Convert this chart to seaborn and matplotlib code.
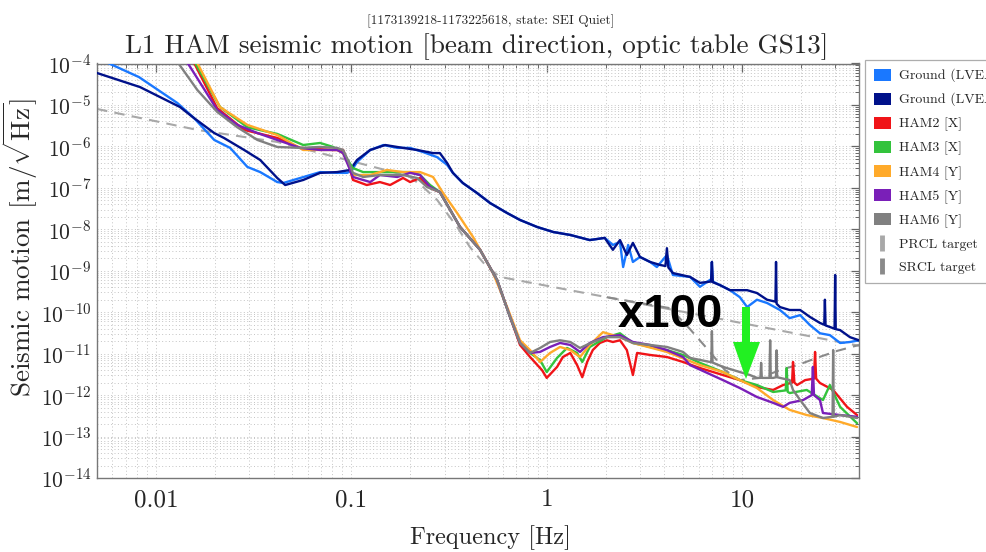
import matplotlib
matplotlib.use("Agg")
import matplotlib.pyplot as plt
import pandas as pd
import seaborn as sns
from matplotlib.patches import Patch, Polygon
from matplotlib.lines import Line2D
from matplotlib.ticker import LogLocator, FixedLocator, FixedFormatter, NullFormatter

# ---------------------------------------------------------------------------
# Amplitude spectral densities, (frequency [Hz], amplitude [m/rtHz]) pairs
# ---------------------------------------------------------------------------
ground_x = [
    (0.0050, 1.36e-4), (0.0082, 4.7e-5), (0.0129, 1.11e-5), (0.0157, 4.8e-6),
    (0.0199, 1.43e-6), (0.024, 9.2e-7), (0.0294, 3.2e-7), (0.0342, 2.4e-7),
    (0.0418, 1.38e-7), (0.0449, 1.31e-7), (0.0548, 1.73e-7), (0.0693, 2.4e-7),
    (0.0846, 2.3e-7), (0.0951, 2.3e-7), (0.100, 2.55e-7), (0.107, 4.2e-7),
    (0.125, 8.2e-7), (0.146, 1.08e-6), (0.172, 9.2e-7), (0.200, 9.2e-7),
    (0.233, 7.3e-7), (0.275, 5.5e-7), (0.309, 3.6e-7), (0.331, 2.3e-7),
    (0.372, 1.31e-7), (0.440, 7.5e-8), (0.513, 4.3e-8), (0.627, 2.47e-8),
    (0.730, 1.68e-8), (0.892, 1.14e-8), (1.08, 8.6e-9), (1.32, 7.3e-9),
    (1.66, 5.5e-9), (1.98, 6.2e-9), (2.18, 4.2e-9), (2.37, 4.9e-9),
    (2.46, 1.23e-9), (2.61, 4.2e-9), (2.76, 1.63e-9), (3.0, 2.15e-9),
    (3.38, 1.63e-9), (3.66, 1.23e-9), (4.12, 2.4e-9), (4.42, 7.9e-10),
    (5.41, 7.1e-10), (6.08, 4.1e-10), (6.84, 6.0e-10), (6.93, 6.0e-10),
    (7.0, 1.63e-9), (7.07, 5.5e-10), (7.70, 4.5e-10), (8.66, 3.4e-10),
    (9.73, 2.3e-10), (10.6, 1.33e-10), (11.9, 2.0e-10), (13.4, 1.67e-10),
    (15.6, 1.13e-10), (17.5, 7.2e-11), (19.8, 8.5e-11), (22.2, 4.9e-11),
    (25.0, 3.1e-11), (28.1, 2.8e-11), (31.7, 1.81e-11), (35.6, 1.91e-11),
    (39.6, 2.1e-11),
]
ground_y = [
    (0.0050, 5.9e-5), (0.0083, 2.7e-5), (0.0133, 8.9e-6), (0.0157, 4.8e-6),
    (0.0199, 2.1e-6), (0.0223, 1.60e-6), (0.0283, 8.2e-7), (0.0342, 4.7e-7),
    (0.0418, 1.73e-7), (0.0459, 1.17e-7), (0.0568, 1.55e-7), (0.0693, 2.3e-7),
    (0.0846, 2.4e-7), (0.0986, 2.7e-7), (0.107, 4.7e-7), (0.125, 8.2e-7),
    (0.149, 1.08e-6), (0.184, 9.2e-7), (0.217, 8.2e-7), (0.262, 6.9e-7),
    (0.284, 6.9e-7), (0.309, 4.0e-7), (0.331, 2.3e-7), (0.372, 1.31e-7),
    (0.440, 7.5e-8), (0.513, 4.3e-8), (0.627, 2.47e-8), (0.730, 1.68e-8),
    (0.892, 1.14e-8), (1.08, 8.6e-9), (1.32, 7.3e-9), (1.66, 5.5e-9),
    (1.98, 6.2e-9), (2.18, 3.2e-9), (2.37, 5.5e-9), (2.57, 2.4e-9),
    (2.76, 4.7e-9), (3.0, 2.15e-9), (3.38, 1.63e-9), (3.80, 1.38e-9),
    (4.05, 1.3e-9), (4.12, 3.5e-9), (4.19, 1.2e-9), (4.42, 8.8e-10),
    (5.41, 7.1e-10), (6.08, 5.1e-10), (6.93, 5.5e-10), (7.0, 1.63e-9),
    (7.07, 5.3e-10), (7.70, 4.5e-10), (8.66, 3.4e-10), (10.6, 3.4e-10),
    (11.9, 2.9e-10), (13.4, 2.0e-10), (14.8, 1.8e-10), (14.9, 1.63e-9),
    (15.0, 1.6e-10), (15.6, 1.33e-10), (17.5, 1.13e-10), (19.8, 1.13e-10),
    (22.2, 7.7e-11), (25.0, 5.5e-11), (26.3, 5.0e-11), (26.5, 2.0e-10),
    (26.7, 4.8e-11), (28.1, 4.4e-11), (29.7, 4.0e-11), (29.9, 7.9e-10),
    (30.1, 3.9e-11), (31.7, 3.7e-11), (35.6, 2.5e-11), (39.6, 2.1e-11),
]
ham2_x = [
    (0.0133, 2.8e-4), (0.0157, 1.03e-4), (0.0206, 8.4e-6), (0.0283, 2.5e-6),
    (0.0418, 1.60e-6), (0.0548, 9.2e-7), (0.0807, 8.2e-7), (0.0908, 8.2e-7),
    (0.0964, 4.0e-7), (0.102, 1.55e-7), (0.120, 1.17e-7), (0.140, 1.38e-7),
    (0.158, 1.17e-7), (0.184, 1.73e-7), (0.200, 1.38e-7), (0.225, 1.73e-7),
    (0.253, 9.9e-8), (0.284, 7.9e-8), (0.360, 1.14e-8), (0.456, 3.2e-9),
    (0.557, 6.0e-10), (0.649, 7.7e-11), (0.730, 1.62e-11), (0.822, 8.3e-12),
    (0.946, 4.0e-12), (1.00, 2.6e-12), (1.13, 4.8e-12), (1.21, 8.3e-12),
    (1.32, 1.04e-11), (1.43, 5.3e-12), (1.52, 2.7e-12), (1.61, 6.3e-12),
    (1.72, 1.22e-11), (1.87, 1.81e-11), (2.03, 2.1e-11), (2.18, 1.91e-11),
    (2.37, 2.1e-11), (2.57, 1.22e-11), (2.76, 3.05e-12), (2.90, 1.04e-11),
    (3.38, 9.3e-12), (4.12, 8.3e-12), (4.98, 6.3e-12), (6.08, 4.5e-12),
    (7.97, 3.05e-12), (9.73, 2.3e-12), (11.9, 1.57e-12), (14.4, 1.33e-12),
    (16.2, 1.75e-12), (18.0, 2.0e-12), (18.2, 6.3e-12), (18.5, 2.0e-12),
    (19.1, 1.75e-12), (21.0, 2.3e-12), (23.3, 2.5e-12), (23.6, 1.10e-11),
    (23.9, 2.5e-12), (25.0, 1.96e-12), (29.2, 1.33e-12), (34.4, 5.2e-13),
    (38.7, 3.3e-13),
]
ham3_x = [
    (0.0136, 2.8e-4), (0.0159, 1.03e-4), (0.0213, 8.9e-6), (0.0294, 2.9e-6),
    (0.0418, 2.0e-6), (0.0568, 1.08e-6), (0.0693, 1.21e-6), (0.0807, 9.7e-7),
    (0.0908, 6.9e-7), (0.102, 3.0e-7), (0.115, 2.4e-7), (0.140, 2.4e-7),
    (0.172, 2.4e-7), (0.200, 2.4e-7), (0.225, 2.04e-7), (0.253, 1.17e-7),
    (0.284, 7.9e-8), (0.360, 1.14e-8), (0.456, 3.2e-9), (0.557, 6.0e-10),
    (0.649, 7.7e-11), (0.730, 1.81e-11), (0.822, 1.04e-11), (0.924, 7.0e-12),
    (1.00, 3.6e-12), (1.13, 7.9e-12), (1.27, 1.37e-11), (1.43, 1.04e-11),
    (1.52, 6.3e-12), (1.66, 1.45e-11), (2.03, 2.5e-11), (2.37, 3.1e-11),
    (2.76, 1.81e-11), (3.38, 1.45e-11), (4.12, 1.22e-11), (4.98, 9.3e-12),
    (6.08, 6.0e-12), (7.97, 3.6e-12), (9.73, 2.3e-12), (11.9, 1.75e-12),
    (14.4, 1.19e-12), (16.7, 1.3e-12), (16.9, 4.5e-12), (17.1, 1.2e-12),
    (17.5, 1.12e-12), (21.4, 1.33e-12), (25.9, 7.6e-13), (28.1, 1.75e-12),
    (31.7, 5.2e-13), (38.7, 2.1e-13),
]
ham4_y = [
    (0.0141, 2.8e-4), (0.0163, 1.03e-4), (0.0213, 8.9e-6), (0.0294, 3.3e-6),
    (0.0418, 1.88e-6), (0.0568, 8.2e-7), (0.0846, 8.2e-7), (0.0908, 6.9e-7),
    (0.102, 2.04e-7), (0.125, 2.04e-7), (0.152, 2.7e-7), (0.184, 2.4e-7),
    (0.225, 2.4e-7), (0.262, 1.83e-7), (0.295, 7.5e-8), (0.348, 2.47e-8),
    (0.420, 6.5e-9), (0.531, 8.8e-10), (0.627, 1.33e-10), (0.730, 2.1e-11),
    (0.822, 1.22e-11), (0.924, 6.3e-12), (1.04, 1.04e-11), (1.17, 1.45e-11),
    (1.32, 1.22e-11), (1.48, 8.3e-12), (1.66, 1.62e-11), (1.94, 3.3e-11),
    (2.37, 2.5e-11), (2.76, 1.81e-11), (4.12, 1.10e-11), (6.08, 5.3e-12),
    (7.97, 3.6e-12), (9.73, 2.3e-12), (11.9, 1.48e-12), (14.4, 7.6e-13),
    (17.5, 4.4e-13), (21.4, 3.3e-13), (25.9, 2.8e-13), (31.7, 2.25e-13),
    (38.7, 1.7e-13),
]
ham5_y = [
    (0.01255, 2.8e-4), (0.0150, 8.2e-5), (0.0206, 7.6e-6), (0.0261, 3.3e-6),
    (0.0331, 2.1e-6), (0.0418, 1.43e-6), (0.0548, 9.2e-7), (0.0693, 8.2e-7),
    (0.0846, 8.2e-7), (0.0908, 6.9e-7), (0.102, 1.83e-7), (0.125, 1.38e-7),
    (0.140, 2.04e-7), (0.172, 1.83e-7), (0.200, 2.3e-7), (0.225, 2.04e-7),
    (0.253, 1.05e-7), (0.284, 7.9e-8), (0.360, 1.14e-8), (0.456, 3.2e-9),
    (0.557, 6.0e-10), (0.649, 7.7e-11), (0.730, 1.81e-11), (0.822, 1.04e-11),
    (0.924, 1.10e-11), (1.04, 1.45e-11), (1.17, 1.81e-11), (1.32, 1.62e-11),
    (1.48, 1.10e-11), (1.66, 1.81e-11), (1.94, 2.5e-11), (2.37, 2.8e-11),
    (2.76, 1.91e-11), (3.38, 1.62e-11), (4.12, 1.22e-11), (4.98, 8.3e-12),
    (5.41, 5.3e-12), (7.97, 2.3e-12), (9.73, 1.48e-12), (11.9, 9.0e-13),
    (14.4, 6.5e-13), (16.2, 5.2e-13), (17.5, 6.5e-13), (20.5, 7.6e-13),
    (22.7, 1.0e-12), (23.0, 4.8e-12), (23.3, 1.0e-12), (25.0, 7.6e-13),
    (25.9, 3.7e-13), (31.7, 3.3e-13), (38.7, 3.0e-13),
]
ham6_y = [
    (0.0112, 2.8e-4), (0.0129, 1.09e-4), (0.0163, 2.3e-5), (0.0206, 6.8e-6),
    (0.0261, 2.9e-6), (0.0331, 1.43e-6), (0.0418, 9.7e-7), (0.0548, 9.2e-7),
    (0.0693, 9.7e-7), (0.0846, 9.2e-7), (0.0908, 8.2e-7), (0.0951, 5.2e-7),
    (0.102, 2.3e-7), (0.115, 1.83e-7), (0.140, 2.04e-7), (0.184, 2.04e-7),
    (0.217, 1.73e-7), (0.244, 1.05e-7), (0.284, 7.9e-8), (0.360, 1.14e-8),
    (0.456, 3.2e-9), (0.557, 6.0e-10), (0.649, 7.7e-11), (0.730, 1.81e-11),
    (0.822, 1.04e-11), (0.924, 1.37e-11), (1.04, 1.91e-11), (1.17, 2.1e-11),
    (1.32, 1.91e-11), (1.48, 1.37e-11), (1.72, 1.91e-11), (2.03, 2.5e-11),
    (2.37, 2.5e-11), (2.76, 1.81e-11), (3.38, 1.62e-11), (4.12, 1.45e-11),
    (4.98, 1.10e-11), (5.41, 7.9e-12), (6.84, 6.3e-12), (6.95, 6.2e-12),
    (7.0, 3.5e-11), (7.05, 6.1e-12), (7.97, 4.8e-12), (9.73, 3.6e-12),
    (10.96, 3.05e-12), (11.9, 2.6e-12), (12.4, 2.6e-12), (12.5, 6.0e-12),
    (12.6, 2.6e-12), (13.8, 2.6e-12), (13.9, 2.1e-11), (14.0, 2.6e-12),
    (14.4, 2.6e-12), (14.9, 2.7e-12), (15.0, 1.2e-11), (15.1, 2.7e-12),
    (17.5, 2.3e-12), (18.2, 1.33e-12), (19.8, 7.6e-13), (22.2, 3.7e-13),
    (25.9, 2.8e-13), (29.0, 3.0e-13), (29.2, 1.22e-11), (29.4, 3.0e-13),
    (31.7, 3.3e-13), (38.7, 2.8e-13),
]
prcl_target = [
    (0.0050, 8.0e-6), (0.0163, 2.5e-6), (0.0418, 1.28e-6), (0.0951, 4.7e-7),
    (0.164, 2.4e-7), (0.200, 1.83e-7), (0.233, 1.05e-7), (0.275, 5.1e-8),
    (0.348, 1.14e-8), (0.405, 3.7e-9), (0.495, 1.23e-9), (0.577, 7.1e-10),
    (2.03, 2.3e-10), (8.66, 6.2e-11), (39.6, 1.55e-11),
]
srcl_target = [
    (2.03, 2.3e-10), (4.28, 1.25e-10), (5.41, 3.9e-11), (6.84, 1.10e-11),
    (8.17, 4.0e-12), (9.73, 2.3e-12), (12.3, 2.6e-12), (15.6, 4.0e-12),
    (19.8, 5.6e-12), (24.1, 7.9e-12), (30.5, 1.16e-11), (39.6, 1.62e-11),
]

series_names = ["Ground (LVEA) [X]", "Ground (LVEA) [Y]", "HAM2 [X]", "HAM3 [X]",
                "HAM4 [Y]", "HAM5 [Y]", "HAM6 [Y]"]
series_data = [ground_x, ground_y, ham2_x, ham3_x, ham4_y, ham5_y, ham6_y]
series_colors = ["#1a78ff", "#00118a", "#f01418", "#33c33c", "#ffaa2a",
                 "#7a1fb8", "#808080"]
target_names = ["PRCL target", "SRCL target"]
target_data = [prcl_target, srcl_target]
target_colors = ["#a8a8a8", "#8a8a8a"]

sns.set_style("white")
plt.rcParams["font.family"] = ["cmr10", "DejaVu Serif"]
plt.rcParams["mathtext.fontset"] = "cm"
plt.rcParams["axes.formatter.use_mathtext"] = True
plt.rcParams["axes.unicode_minus"] = False

fig = plt.figure(figsize=(9.86, 5.52), dpi=100)
ax = fig.add_axes([97 / 986, 74 / 552, 762 / 986, 414.5 / 552])
ax.set_xscale("log")
ax.set_yscale("log")

for pts, col in zip(target_data, target_colors):
    df = pd.DataFrame(pts, columns=["freq", "amp"])
    sns.lineplot(data=df, x="freq", y="amp", ax=ax, color=col, lw=1.5,
                 linestyle=(0, (5, 3.5)), estimator=None, sort=False, zorder=2)

for pts, col in zip(series_data, series_colors):
    df = pd.DataFrame(pts, columns=["freq", "amp"])
    sns.lineplot(data=df, x="freq", y="amp", ax=ax, color=col, lw=1.7,
                 estimator=None, sort=False, zorder=3)

ax.set_xlim(0.005, 39.6)
ax.set_ylim(1e-14, 1e-4)
ax.set_xlabel("")
ax.set_ylabel("")

ax.xaxis.set_major_locator(FixedLocator([0.01, 0.1, 1, 10]))
ax.xaxis.set_major_formatter(FixedFormatter(["0.01", "0.1", "1", "10"]))
ax.xaxis.set_minor_locator(LogLocator(base=10, subs=range(2, 10), numticks=20))
ax.xaxis.set_minor_formatter(NullFormatter())
ax.yaxis.set_major_locator(LogLocator(base=10, numticks=20))
ax.yaxis.set_minor_locator(LogLocator(base=10, subs=range(2, 10), numticks=20))
ax.yaxis.set_minor_formatter(NullFormatter())

ax.tick_params(which="both", direction="in", top=True, right=True,
               color="#666666")
ax.tick_params(which="major", length=6, width=0.9, pad=5)
ax.tick_params(axis="x", which="major", labelsize=18, pad=8)
ax.tick_params(axis="y", which="major", labelsize=15.5, pad=4)
ax.tick_params(which="minor", length=3, width=0.7)
ax.grid(True, which="both", color="#c4c4c4", linestyle=(0, (1, 2.5)), lw=0.7)
for sp in ax.spines.values():
    sp.set_color("#777777")
    sp.set_linewidth(1.0)

fig.text(0.498, 1 - 24 / 552, "[1173139218-1173225618, state: SEI Quiet]",
         ha="center", va="baseline", fontsize=9.6)
fig.text(0.483, 1 - 53 / 552,
         "L1 HAM seismic motion [beam direction, optic table GS13]",
         ha="center", va="baseline", fontsize=19.5)
fig.text(20 / 986, 1 - 248 / 552, r"Seismic motion [m/$\sqrt{\mathrm{Hz}}$]",
         rotation=90, ha="center", va="center", fontsize=19.5)
fig.text(490 / 986, 1 - 538 / 552, "Frequency [Hz]", ha="center",
         va="center", fontsize=17.5)

# "x100" call-out with green arrow
fig.text(670 / 986, 1 - 315 / 552, "x100", ha="center", va="center",
         fontsize=34, fontweight="bold", family="Liberation Sans", color="black")
arrow_px = [(742, 307), (750, 307), (750, 342), (760, 342), (746, 379),
            (733, 342), (742, 342)]
fig.patches.append(Polygon([(px / 986, 1 - py / 552) for px, py in arrow_px],
                           closed=True, transform=fig.transFigure,
                           facecolor="#22f022", edgecolor="none", zorder=10))

handles = [Patch(facecolor=c, edgecolor="none") for c in series_colors]
handles += [Line2D([0], [0], marker="|", ls="none", color=c, markersize=11,
                   markeredgewidth=3.5) for c in target_colors]
leg = fig.legend(handles, series_names + target_names, loc="upper left",
                 bbox_to_anchor=(865 / 986, 1 - 60 / 552), fontsize=10,
                 frameon=True, fancybox=False, edgecolor="#999999",
                 handlelength=1.2, handleheight=0.9, labelspacing=0.7,
                 borderpad=0.65, handletextpad=0.6, borderaxespad=0)
leg.get_frame().set_linewidth(0.9)

fig.savefig("out.png", dpi=100)
